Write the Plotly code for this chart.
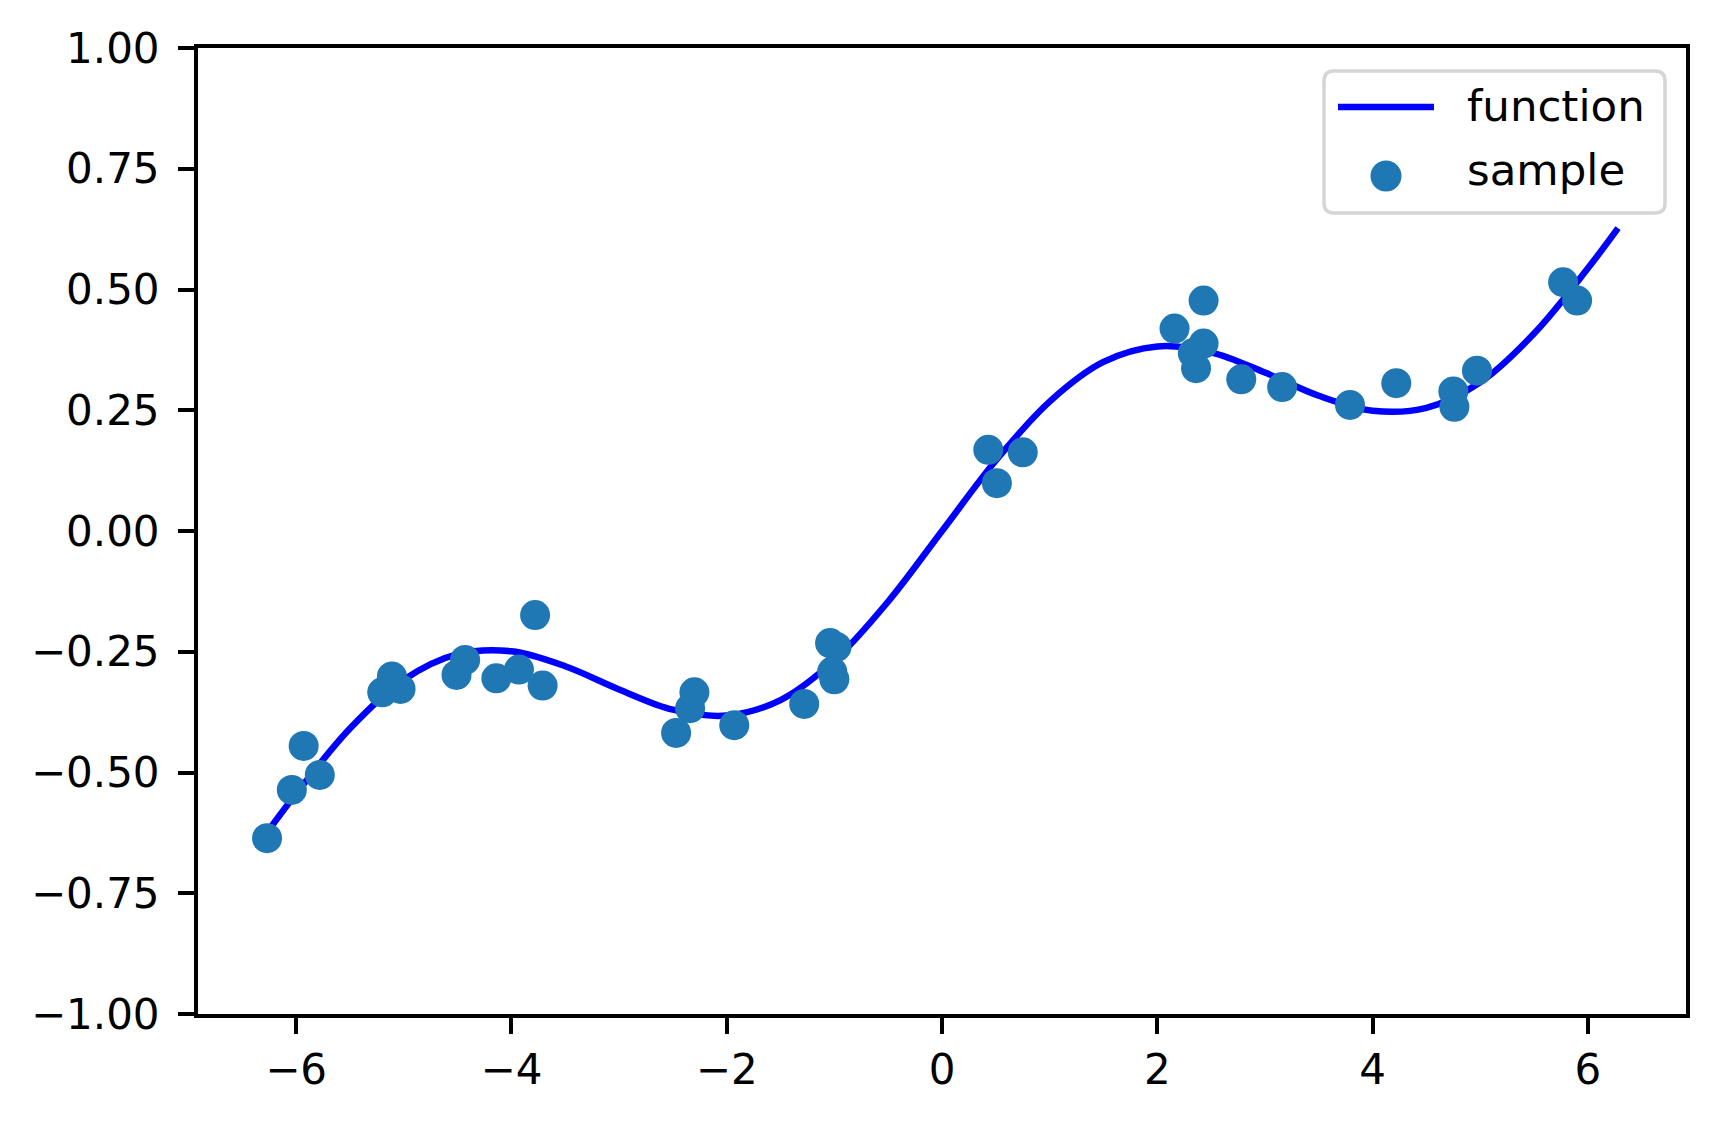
import plotly.graph_objects as go

# Function curve
func_x = [-6.28, -6.0, -5.5, -5.0, -4.5, -4.0, -3.5, -3.0, -2.5, -2.0, -1.5, -1.0, -0.5,
          0.0, 0.5, 1.0, 1.5, 2.0, 2.5, 3.0, 3.5, 4.0, 4.5, 5.0, 5.5, 6.0, 6.28]
func_y = [-0.627, -0.544, -0.409, -0.308, -0.255, -0.249, -0.280, -0.328, -0.370, -0.382,
          -0.350, -0.268, -0.146, 0.0, 0.146, 0.268, 0.350, 0.382, 0.370, 0.328, 0.280,
          0.249, 0.255, 0.308, 0.409, 0.544, 0.627]

# Sample points
sample_x = [-6.27, -6.04, -5.93, -5.78, -5.20, -5.11, -5.03, -4.51, -4.43, -4.14, -3.93,
            -3.78, -3.71, -2.47, -2.34, -2.30, -1.93, -1.28, -1.04, -0.98, -1.02, -1.00,
            0.43, 0.75, 0.51, 2.43, 2.16, 2.43, 2.33, 2.36, 2.78, 3.16, 3.79, 4.22, 4.75,
            4.76, 4.97, 5.77, 5.90]
sample_y = [-0.636, -0.536, -0.445, -0.505, -0.334, -0.301, -0.327, -0.298, -0.267, -0.305,
            -0.287, -0.174, -0.320, -0.418, -0.367, -0.334, -0.402, -0.358, -0.232, -0.240,
            -0.291, -0.307, 0.168, 0.163, 0.099, 0.477, 0.419, 0.388, 0.368, 0.337, 0.314,
            0.298, 0.261, 0.306, 0.289, 0.257, 0.332, 0.515, 0.477]

y_ticks = [-1.0, -0.75, -0.5, -0.25, 0.0, 0.25, 0.5, 0.75, 1.0]
x_ticks = [-6, -4, -2, 0, 2, 4, 6]
legend_labels = ["function", "sample"]

FONT = "DejaVu Sans"
LINE_COLOR = "#0000ff"
DOT_COLOR = "#1f77b4"

# plot area in page pixels (reference)
PL, PR, PT, PB = 198.0, 1686.0, 48.0, 1014.0
PW, PH = PR - PL, PB - PT


def px(x):
    return (x - PL) / PW


def py(y):
    return (PB - y) / PH


fig = go.Figure()
fig.add_trace(go.Scatter(x=func_x, y=func_y, mode="lines", name=legend_labels[0],
                         showlegend=False,
                         line=dict(color=LINE_COLOR, width=6.5, shape="spline")))
fig.add_trace(go.Scatter(x=sample_x, y=sample_y, mode="markers", name=legend_labels[1],
                         showlegend=False,
                         marker=dict(color=DOT_COLOR, size=30, line=dict(width=0))))

axis_common = dict(showline=True, linecolor="black", linewidth=4, mirror=True,
                   ticks="outside", ticklen=16, tickwidth=3.5, tickcolor="black",
                   showgrid=False, zeroline=False,
                   tickfont=dict(family=FONT, size=42, color="black"))

# legend box (rounded rectangle) drawn in paper coordinates
bx0, by0, bx1, by1, r = 1324.0, 71.0, 1665.0, 213.0, 10.0
path = (f"M {px(bx0 + r)},{py(by0)} L {px(bx1 - r)},{py(by0)} "
        f"Q {px(bx1)},{py(by0)} {px(bx1)},{py(by0 + r)} "
        f"L {px(bx1)},{py(by1 - r)} Q {px(bx1)},{py(by1)} {px(bx1 - r)},{py(by1)} "
        f"L {px(bx0 + r)},{py(by1)} Q {px(bx0)},{py(by1)} {px(bx0)},{py(by1 - r)} "
        f"L {px(bx0)},{py(by0 + r)} Q {px(bx0)},{py(by0)} {px(bx0 + r)},{py(by0)} Z")

shapes = [
    dict(type="path", path=path, xref="paper", yref="paper",
         fillcolor="rgba(255,255,255,0.8)", line=dict(color="#d5d5d5", width=3.5), layer="above"),
    dict(type="line", xref="paper", yref="paper", x0=px(1338), x1=px(1434),
         y0=py(107), y1=py(107), line=dict(color=LINE_COLOR, width=6.5), layer="above"),
    dict(type="circle", xref="paper", yref="paper", x0=px(1386 - 15.5), x1=px(1386 + 15.5),
         y0=py(176 + 15.5), y1=py(176 - 15.5), fillcolor=DOT_COLOR,
         line=dict(width=0), layer="above"),
]

annotations = [
    dict(text=legend_labels[0], xref="paper", yref="paper", x=px(1465), y=py(106),
         xanchor="left", yanchor="middle", showarrow=False,
         font=dict(family=FONT, size=43.5, color="black")),
    dict(text=legend_labels[1], xref="paper", yref="paper", x=px(1465), y=py(170),
         xanchor="left", yanchor="middle", showarrow=False,
         font=dict(family=FONT, size=43.5, color="black")),
]

fig.update_layout(
    width=1719, height=1121,
    margin=dict(l=190, r=41, t=40, b=115),
    paper_bgcolor="white", plot_bgcolor="white",
    xaxis=dict(range=[-6.9115, 6.9115], tickvals=x_ticks, **axis_common),
    yaxis=dict(range=[-1, 1], tickvals=y_ticks, tickformat=".2f",
               ticklabelstandoff=10, **axis_common),
    shapes=shapes,
    annotations=annotations,
    showlegend=False,
)

fig.write_html("out.html")
